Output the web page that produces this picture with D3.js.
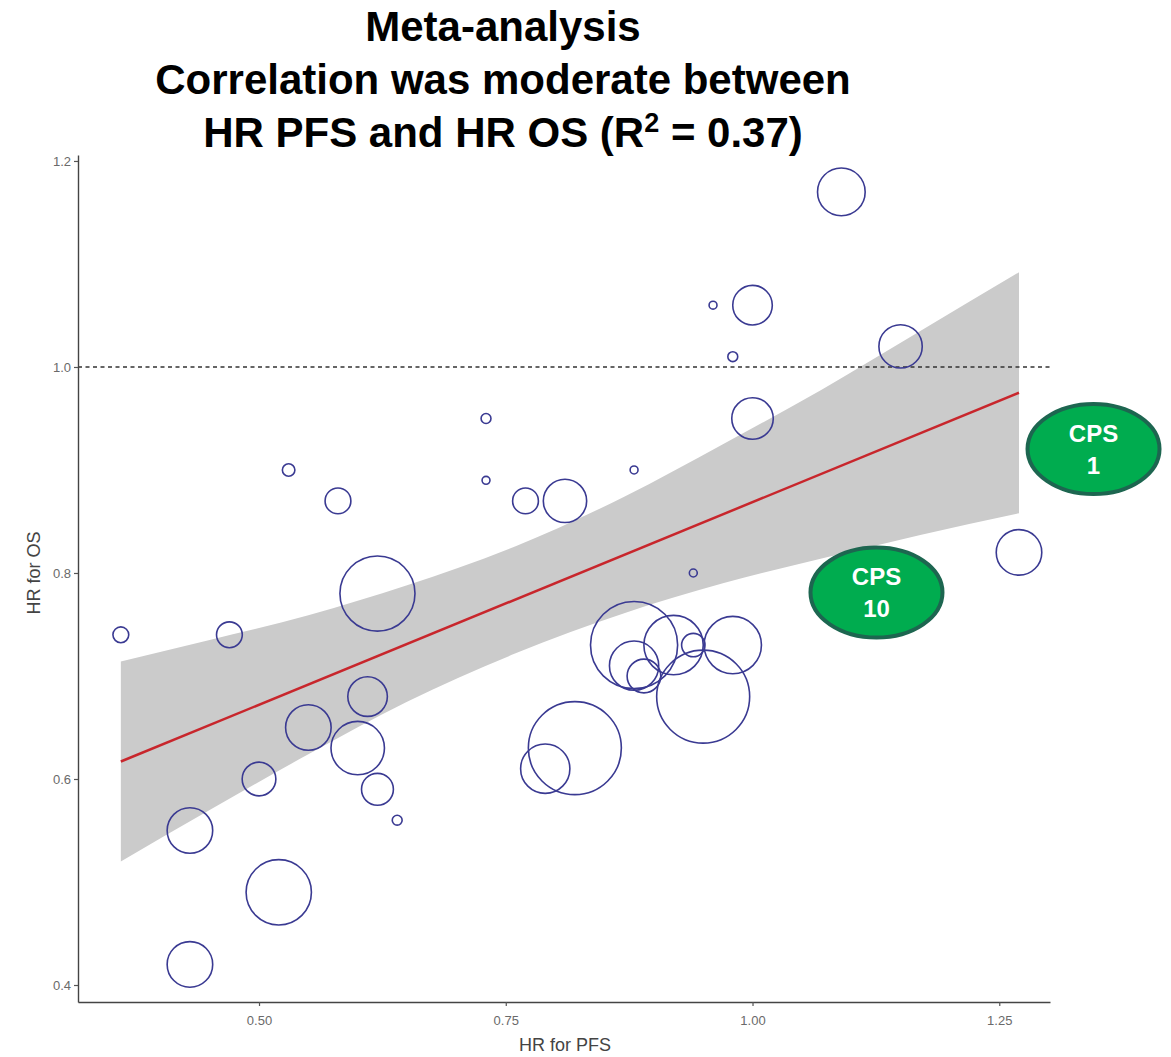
<!DOCTYPE html>
<html>
<head>
<meta charset="utf-8">
<script src="https://cdn.jsdelivr.net/npm/d3@7"></script>
<style>
  html, body { margin: 0; padding: 0; background: #ffffff; }
  svg { display: block; }
</style>
</head>
<body>
<svg id="chart" width="1171" height="1057"></svg>
<script>
// Trial-level hazard ratios: PFS (x) vs OS (y), bubble area ~ trial weight
const hrPFS = [1.09, 0.96, 1.00, 1.15, 0.98, 1.00, 0.73, 0.53, 0.73, 0.88, 0.58, 0.77,
               0.81, 0.94, 1.27, 0.36, 0.47, 0.62, 0.88, 0.88, 0.89, 0.92, 0.94, 0.98,
               0.95, 0.61, 0.55, 0.60, 0.82, 0.79, 0.50, 0.62, 0.64, 0.43, 0.52, 0.43];
const hrOS  = [1.17, 1.06, 1.06, 1.02, 1.01, 0.95, 0.95, 0.90, 0.89, 0.90, 0.87, 0.87,
               0.87, 0.80, 0.82, 0.74, 0.74, 0.78, 0.73, 0.71, 0.70, 0.73, 0.73, 0.73,
               0.68, 0.68, 0.65, 0.63, 0.63, 0.61, 0.60, 0.59, 0.56, 0.55, 0.49, 0.42];
const weight = [58, 1.6, 40, 48, 2.5, 44, 2.5, 4, 1.6, 1.6, 17, 17,
                48, 1.6, 53, 6.4, 17, 144, 194, 62, 29, 90, 14, 84,
                221, 40, 53, 73, 221, 62, 29, 26, 2.5, 53, 109, 53];

// Linear fit (HR OS on HR PFS) and its 95% confidence band
const fitX = [0.36, 1.27];
const fitY = [0.617, 0.975];
const bandX     = [0.36, 0.45, 0.55, 0.65, 0.76, 0.87, 0.97, 1.07, 1.17, 1.27];
const bandUpper = [0.714, 0.735, 0.759, 0.788, 0.826, 0.874, 0.925, 0.978, 1.035, 1.092];
const bandLower = [0.520, 0.570, 0.624, 0.675, 0.722, 0.761, 0.790, 0.814, 0.837, 0.858];

// Axis ticks
const xTicks = [0.50, 0.75, 1.00, 1.25];
const yTicks = [0.4, 0.6, 0.8, 1.0, 1.2];
const refLine = 1.0;

// CPS call-outs, placed in data space
const calloutText = [["CPS", "1"], ["CPS", "10"]];
const calloutX = [1.3455, 1.1256];
const calloutY = [0.9204, 0.781];

const titleLines = ["Meta-analysis", "Correlation was moderate between"];

const svg = d3.select("#chart");
const plot = { left: 78, right: 1050, top: 155, bottom: 1002 };

const x = d3.scaleLinear().domain([0.3166, 1.3014]).range([plot.left, plot.right]);
const y = d3.scaleLinear().domain([0.3835, 1.2058]).range([plot.bottom, plot.top]);
const r = d3.scaleSqrt().domain([0, 221]).range([0, 46.5]);

const sans = "'Liberation Sans', Arial, sans-serif";

// Title
const title = svg.append("g")
  .attr("font-family", sans)
  .attr("font-weight", "bold")
  .attr("font-size", 42)
  .attr("fill", "#000")
  .attr("text-anchor", "middle");
titleLines.forEach((t, i) => {
  title.append("text").attr("x", 503).attr("y", 41 + i * 53).text(t);
});
const t3 = title.append("text").attr("x", 503).attr("y", 147);
t3.append("tspan").text("HR PFS and HR OS (R");
t3.append("tspan").attr("font-size", 27).attr("dy", -15).text("2");
t3.append("tspan").attr("dy", 15).text(" = 0.37)");

// Confidence band
const bandData = bandX.map((v, i) => ({ x: v, lo: bandLower[i], hi: bandUpper[i] }));
svg.append("path")
  .datum(bandData)
  .attr("fill", "#cbcbcb")
  .attr("d", d3.area()
    .x(d => x(d.x))
    .y0(d => y(d.lo))
    .y1(d => y(d.hi))
    .curve(d3.curveMonotoneX));

// Reference line at HR OS = 1
svg.append("line")
  .attr("x1", plot.left).attr("x2", plot.right)
  .attr("y1", y(refLine)).attr("y2", y(refLine))
  .attr("stroke", "#333")
  .attr("stroke-width", 1.6)
  .attr("stroke-dasharray", "4,3.5");

// Fitted line
svg.append("path")
  .datum(fitX.map((v, i) => [v, fitY[i]]))
  .attr("fill", "none")
  .attr("stroke", "#c8262c")
  .attr("stroke-width", 2.5)
  .attr("d", d3.line().x(d => x(d[0])).y(d => y(d[1])));

// Bubbles
svg.append("g")
  .selectAll("circle")
  .data(hrPFS.map((v, i) => ({ x: v, y: hrOS[i], w: weight[i] })))
  .join("circle")
  .attr("cx", d => x(d.x))
  .attr("cy", d => y(d.y))
  .attr("r", d => r(d.w))
  .attr("fill", "none")
  .attr("stroke", "#3a3a92")
  .attr("stroke-width", 1.6);

// Axes
const xAxis = svg.append("g")
  .attr("transform", `translate(0,${plot.bottom})`)
  .call(d3.axisBottom(x).tickValues(xTicks).tickFormat(d3.format(".2f")).tickSize(4).tickSizeOuter(0));
const yAxis = svg.append("g")
  .attr("transform", `translate(${plot.left},0)`)
  .call(d3.axisLeft(y).tickValues(yTicks).tickFormat(d3.format(".1f")).tickSize(4).tickSizeOuter(0));

[xAxis, yAxis].forEach(a => {
  a.select(".domain").attr("stroke", "#444").attr("stroke-width", 1.4);
  a.selectAll(".tick line").attr("stroke", "#555").attr("stroke-width", 1.2);
  a.selectAll(".tick text")
    .attr("font-family", sans)
    .attr("font-size", 13)
    .attr("fill", "#6a6a6a");
});
xAxis.selectAll(".tick text").attr("dy", "1.2em");
yAxis.selectAll(".tick text").attr("x", -7);

// Axis titles
svg.append("text")
  .attr("x", x(0.81)).attr("y", 1051)
  .attr("text-anchor", "middle")
  .attr("font-family", sans)
  .attr("font-size", 18)
  .attr("fill", "#444")
  .text("HR for PFS");
svg.append("text")
  .attr("transform", `translate(40,${y(0.8)}) rotate(-90)`)
  .attr("text-anchor", "middle")
  .attr("font-family", sans)
  .attr("font-size", 18)
  .attr("fill", "#444")
  .text("HR for OS");

// CPS call-outs
const callouts = svg.append("g")
  .selectAll("g")
  .data(calloutText.map((t, i) => ({ t, x: calloutX[i], y: calloutY[i] })))
  .join("g")
  .attr("transform", d => `translate(${x(d.x)},${y(d.y)})`);
callouts.append("ellipse")
  .attr("rx", 66).attr("ry", 45)
  .attr("fill", "#00ac4f")
  .attr("stroke", "#1d6650")
  .attr("stroke-width", 4);
callouts.each(function (d) {
  const g = d3.select(this);
  d.t.forEach((line, j) => {
    g.append("text")
      .attr("y", -16 + j * 32)
      .attr("dy", "0.36em")
      .attr("text-anchor", "middle")
      .attr("font-family", sans)
      .attr("font-weight", "bold")
      .attr("font-size", 24)
      .attr("fill", "#ffffff")
      .text(line);
  });
});
</script>
</body>
</html>
